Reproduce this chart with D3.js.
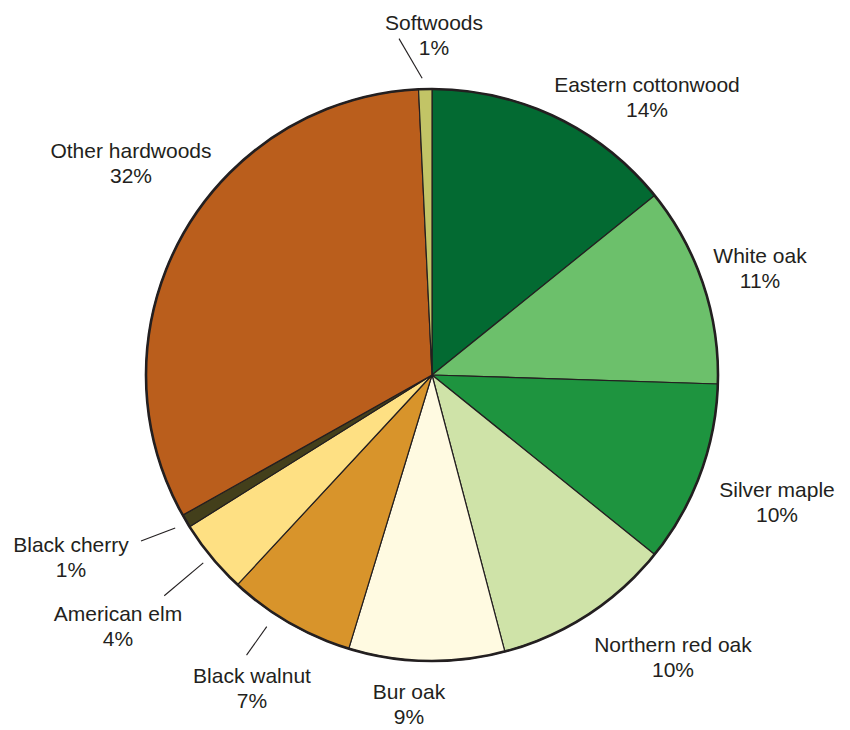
<!DOCTYPE html>
<html>
<head>
<meta charset="utf-8">
<script src="https://cdn.jsdelivr.net/npm/d3@7"></script>
<style>
  html, body { margin: 0; padding: 0; background: #ffffff; }
  svg { display: block; }
  text { font-family: "Liberation Sans", Arial, Helvetica, sans-serif; fill: #231f20; }
</style>
</head>
<body>
<svg id="chart" width="850" height="730"></svg>
<script>
// ---- data ----
const categories = ["Eastern cottonwood", "White oak", "Silver maple", "Northern red oak",
  "Bur oak", "Black walnut", "American elm", "Black cherry", "Other hardwoods", "Softwoods"];
const shares = [14.2, 11.3, 10.3, 10.1, 8.8, 7.2, 4.2, 0.75, 32.4, 0.75];
const percentLabels = ["14%", "11%", "10%", "10%", "9%", "7%", "4%", "1%", "32%", "1%"];
const colors = ["#036a32", "#6cc06b", "#1e943f", "#cfe3a8", "#fffae1",
  "#d8942b", "#fee083", "#433f1b", "#ba5e1c", "#c2c466"];

// ---- layout (label anchors, relative to pie centre) ----
const labelPos = [
  [215, -283], [328, -112], [345, 122], [241, 277], [-23, 324],
  [-180, 308], [-314, 246], [-361, 177], [-301, -217], [2, -345]
];
// leader lines: [angle1Deg, r1, angle2Deg, r2] (null = no leader)
const leaders = [null, null, null, null, null, [213.3, 301, 213.5, 336], [230.6, 296, 230.5, 347],
  [239.2, 299, 240.3, 335], null, [-1.9, 297, -5.6, 338]];

const cx = 432, cy = 375, R = 286;
const svg = d3.select("#chart");
const g = svg.append("g").attr("transform", `translate(${cx},${cy})`);

const rows = categories.map((c, i) => ({ name: c, value: shares[i], pct: percentLabels[i], color: colors[i], i }));

const pie = d3.pie().value(d => d.value).sort(null);
const arc = d3.arc().innerRadius(0).outerRadius(R);
const arcs = pie(rows);

g.selectAll("path.slice").data(arcs).enter().append("path")
  .attr("class", "slice")
  .attr("d", arc)
  .attr("fill", d => d.data.color)
  .attr("stroke", "#231f20")
  .attr("stroke-width", 1.2)
  .attr("stroke-linejoin", "round");

// outer ring
g.append("circle").attr("r", R).attr("fill", "none")
  .attr("stroke", "#231f20").attr("stroke-width", 2.6);

// leaders
const toXY = (deg, r) => {
  const a = deg * Math.PI / 180;
  return [r * Math.sin(a), -r * Math.cos(a)];
};
leaders.forEach((l, i) => {
  if (!l) return;
  const p1 = toXY(l[0], l[1]), p2 = toXY(l[2], l[3]);
  g.append("line")
    .attr("x1", p1[0]).attr("y1", p1[1]).attr("x2", p2[0]).attr("y2", p2[1])
    .attr("stroke", "#231f20").attr("stroke-width", 1.1);
});

// labels
const lbl = g.selectAll("g.lbl").data(rows).enter().append("g")
  .attr("class", "lbl")
  .attr("transform", d => `translate(${labelPos[d.i][0]},${labelPos[d.i][1]})`);
lbl.append("text").attr("text-anchor", "middle").attr("font-size", 21)
  .text(d => d.name);
lbl.append("text").attr("text-anchor", "middle").attr("font-size", 21)
  .attr("y", 25).text(d => d.pct);
</script>
</body>
</html>
